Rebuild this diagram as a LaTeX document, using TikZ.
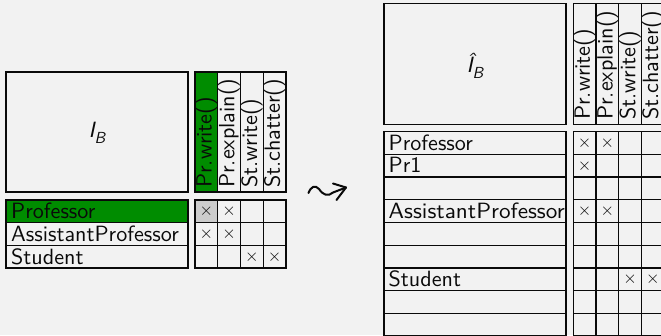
\documentclass[tikz,border=0pt]{standalone}
\usepackage{fontspec}
\newfontfamily\lmsf[ItalicFont=lmsans10-oblique.otf]{lmsans10-regular.otf}
\definecolor{bg}{RGB}{242,242,242}
\definecolor{pgreen}{RGB}{0,140,0}
\definecolor{cellgray}{RGB}{204,204,204}
\definecolor{ink}{RGB}{10,10,10}
\begin{document}
\begin{tikzpicture}[x=1pt,y=-1pt,
  frame/.style={draw=ink, line width=1.3pt},
  lab/.style={anchor=base west, inner sep=0pt, text=ink, font=\lmsf\fontsize{22.1}{24}\selectfont},
  hdr/.style={lab, rotate=90},
  cross/.style={inner sep=0pt, text=ink, font=\fontsize{19}{19}\selectfont},
  bigI/.style={inner sep=0pt, text=ink, font=\lmsf\fontsize{22.1}{24}\selectfont}]
\useasboundingbox (0,0) rectangle (661,335);
\fill[bg] (0,0) rectangle (661,335);
\clip (0,0) rectangle (661,335);
% ---------------- left figure ----------------
\fill[pgreen] (195,72) rectangle (217.75,192);
\fill[pgreen] (6,200) rectangle (188,222.7);
\fill[cellgray] (195,200) rectangle (217.75,222.7);
\draw[frame] (6,72) rectangle (188,192);
\node[bigI] (IB) at (97,133) {\itshape I\raisebox{-0.28em}{\fontsize{16}{16}\selectfont B}};
\foreach \i in {0,...,3} \draw[frame] (195+\i*22.75,72) rectangle ++(22.75,120);
\foreach \j in {0,1,2} {
  \draw[frame] (6,200+\j*22.7) rectangle ++(182,22.7);
  \foreach \i in {0,...,3} \draw[frame] (195+\i*22.75,200+\j*22.7) rectangle ++(22.75,22.7);
}
\foreach \t [count=\i from 0] in {Pr.write(),Pr.explain(),St.write(),St.chatter()}
  \node[hdr] (lh\i) at (195+\i*22.75+16.6,188) {\t};
\node[lab] (lprof) at (11,218.6) {Professor};
\node[lab] (lasst) at (11,241.3) {AssistantProfessor};
\node[lab] (lstud) at (11,264.0) {Student};
\foreach \i/\j [count=\k] in {0/0,1/0,0/1,1/1,2/2,3/2}
  \node[cross] (lx\k) at (195+\i*22.75+11.4,200+\j*22.7+11.35) {$\times$};
% ---------------- arrow ----------------
\draw[ink, line width=2pt, line cap=round, line join=round]
  (308.5,193) .. controls (311,186.5) and (315,184.5) .. (319,189)
  .. controls (323,195) and (328,197) .. (333,192.5) -- (346,187.5);
\draw[ink, line width=2pt, line cap=round, line join=round]
  (333,183.5) -- (346,187.5) -- (336.5,200);
% ---------------- right figure ----------------
\draw[frame] (384,3.3) rectangle (566,124.3);
\node[bigI] (IBh) at (475,66) {\itshape Î\raisebox{-0.28em}{\fontsize{16}{16}\selectfont B}};
\foreach \i in {0,...,4} \draw[frame] (573.3+\i*22.7,3.3) rectangle ++(22.7,121);
\foreach \j in {0,...,8} {
  \draw[frame] (384,131.7+\j*22.7) rectangle ++(182,22.7);
  \foreach \i in {0,...,4} \draw[frame] (573.3+\i*22.7,131.7+\j*22.7) rectangle ++(22.7,22.7);
}
\foreach \t [count=\i from 0] in {Pr.write(),Pr.explain(),St.write(),St.chatter()}
  \node[hdr] (rh\i) at (573.3+\i*22.7+16.6,120) {\t};
\node[lab] (rprof) at (388.5,150.2) {Professor};
\node[lab] (rpr1) at (388.5,172.9) {Pr1};
\node[lab, xscale=1.05] (rasst) at (388.5,218.3) {AssistantProfessor};
\node[lab] (rstud) at (388.5,286.4) {Student};
\foreach \i/\j [count=\k] in {0/0,1/0,0/1,0/3,1/3,2/6,3/6}
  \node[cross] (rx\k) at (573.3+\i*22.7+11.35,131.7+\j*22.7+11.35) {$\times$};
\end{tikzpicture}
\end{document}
